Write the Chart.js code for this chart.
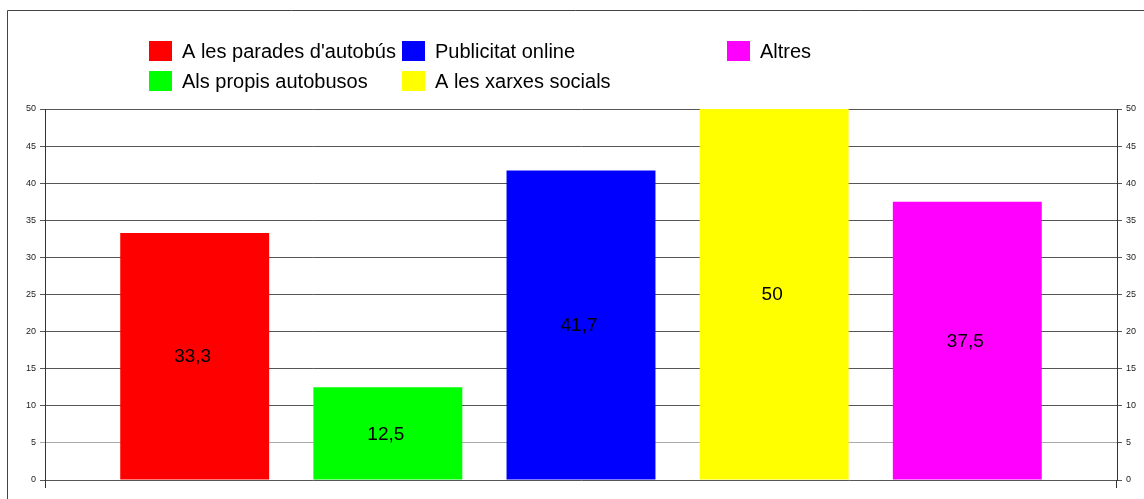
<!DOCTYPE html>
<html>
<head>
<meta charset="utf-8">
<script src="https://cdn.jsdelivr.net/npm/chart.js@4"></script>
<style>
  body { margin: 0; background: #fff; }
  #wrap { width: 1144px; height: 499px; }
</style>
</head>
<body>
<div id="wrap"><canvas id="barChart" width="1144" height="499"></canvas></div>
<script>
const categories = ["A les parades d'autobús", "Als propis autobusos", "Publicitat online", "A les xarxes socials", "Altres"];
const values = [33.3, 12.5, 41.7, 50, 37.5];
const colors = ['#ff0000', '#00ff00', '#0000ff', '#ffff00', '#ff00ff'];
const yTicks = [0, 5, 10, 15, 20, 25, 30, 35, 40, 45, 50];

const FONT = '"Liberation Sans", Arial, sans-serif';

// frame, legend in columns and value labels
const extras = {
    id: 'extras',
    afterDraw(chart) {
        const ctx = chart.ctx;
        const area = chart.chartArea;
        ctx.save();

        ctx.strokeStyle = '#444';
        ctx.lineWidth = 1;
        ctx.beginPath();
        ctx.moveTo(7.5, 499);
        ctx.lineTo(7.5, 10.5);
        ctx.lineTo(1144, 10.5);
        ctx.stroke();

        // axis lines run a little below zero
        ctx.strokeStyle = '#333';
        ctx.beginPath();
        ctx.moveTo(Math.round(area.left) + 0.5, area.bottom);
        ctx.lineTo(Math.round(area.left) + 0.5, area.bottom + 8);
        ctx.moveTo(Math.round(area.right) - 0.5, area.bottom);
        ctx.lineTo(Math.round(area.right) - 0.5, area.bottom + 8);
        ctx.stroke();

        const colX = [149, 402, 727];
        const rowY = [41, 71];
        ctx.font = '20px ' + FONT;
        ctx.textBaseline = 'alphabetic';
        ctx.textAlign = 'left';
        categories.forEach((name, i) => {
            const x = colX[Math.floor(i / 2)];
            const y = rowY[i % 2];
            ctx.fillStyle = colors[i];
            ctx.fillRect(x, y, 23, 20);
            ctx.fillStyle = '#000';
            ctx.fillText(name, x + 33, y + 17);
        });

        const meta = chart.getDatasetMeta(0);
        ctx.font = '19px ' + FONT;
        ctx.textAlign = 'center';
        ctx.textBaseline = 'middle';
        ctx.fillStyle = '#000';
        meta.data.forEach((bar, i) => {
            const p = bar.getProps(['x', 'y', 'base'], true);
            ctx.fillText(String(values[i]).replace('.', ','), p.x - 2, (p.y + p.base) / 2 + 1);
        });
        ctx.restore();
    }
};

const tickFont = { family: FONT, size: 9 };

new Chart(document.getElementById('barChart').getContext('2d'), {
    type: 'bar',
    data: {
        datasets: [{
            data: values.map((v, i) => ({ x: i, y: v })),
            backgroundColor: colors,
            borderWidth: 0,
            barPercentage: 0.771,
            categoryPercentage: 1
        }]
    },
    options: {
        responsive: false,
        animation: false,
        layout: { padding: { top: 109, bottom: 19, left: 0, right: 0 } },
        plugins: { legend: { display: false }, tooltip: { enabled: false } },
        scales: {
            x: {
                type: 'linear',
                min: -0.775,
                max: 4.775,
                offset: false,
                display: false,
                afterBuildTicks: s => { s.ticks = values.map((v, i) => ({ value: i })); },
                grid: { display: false }
            },
            y: {
                position: 'left',
                min: 0,
                max: 50,
                afterBuildTicks: s => { s.ticks = yTicks.map(v => ({ value: v })); },
                afterFit: s => { s.width = 45; },
                ticks: { font: tickFont, color: '#222', padding: 4 },
                grid: {
                    color: c => c.tick && c.tick.value === 5 ? '#aaa' : '#555',
                    lineWidth: 1,
                    tickLength: 5
                },
                border: { color: '#333' }
            },
            y2: {
                position: 'right',
                min: 0,
                max: 50,
                afterBuildTicks: s => { s.ticks = yTicks.map(v => ({ value: v })); },
                afterFit: s => { s.width = 27; },
                ticks: { font: tickFont, color: '#222', padding: 4 },
                grid: { drawOnChartArea: false, color: '#555', tickLength: 5 },
                border: { color: '#333' }
            }
        }
    },
    plugins: [extras]
});
</script>
</body>
</html>
